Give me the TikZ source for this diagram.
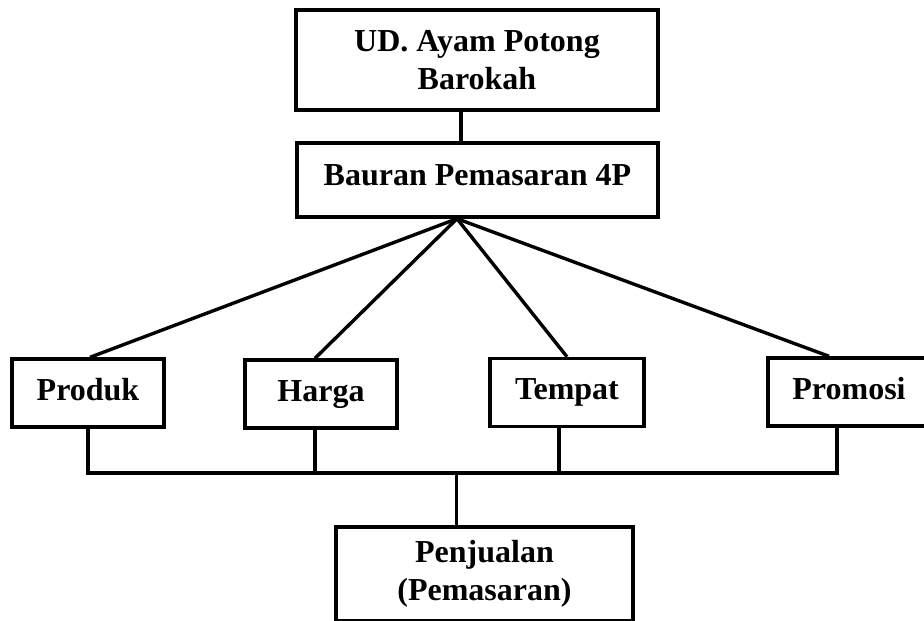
\documentclass[tikz,border=0pt]{standalone}
\usepackage{fontspec}
\setmainfont{Liberation Serif}
\begin{document}
\begin{tikzpicture}[x=1pt,y=-1pt,
  box/.style={draw,line width=3.4pt,rectangle,inner sep=0pt,align=center,
    font=\fontsize{32}{38}\selectfont\bfseries},
  pbox/.style={box,minimum height=68pt,text height=22pt,text depth=8pt},
  conn/.style={line width=3.4pt}]
\useasboundingbox (0,0) rectangle (924,621);
\node[box,minimum width=362pt,minimum height=100pt] (top) at (477,60) {UD. Ayam Potong\\Barokah};
\node[box,minimum width=361pt,minimum height=74pt,text height=22pt,text depth=12pt] (bauran) at (477.5,180) {Bauran Pemasaran 4P};
\node[pbox,minimum width=152pt] (produk) at (88,393) {Produk};
\node[pbox,minimum width=152pt] (harga) at (321,394) {Harga};
\node[pbox,minimum width=154pt] (tempat) at (567,392.5) {Tempat};
\node[pbox,minimum width=162pt] (promosi) at (849,392) {Promosi};
\node[box,minimum width=297pt,minimum height=94pt] (penjualan) at (484.5,574) {Penjualan\\(Pemasaran)};
\coordinate (apex) at ([xshift=-20.5pt]bauran.south);
\coordinate (busL) at (88,473);
\coordinate (busR) at (837,473);
\draw[conn] ([xshift=-16pt]top.south) -- ([xshift=-16pt]top.south |- bauran.north);
\draw[conn] (apex) -- ([xshift=2pt]produk.north);
\draw[conn] (apex) -- ([xshift=-6pt]harga.north);
\draw[conn] (apex) -- (tempat.north);
\draw[conn] (apex) -- ([xshift=-20pt]promosi.north);
\draw[conn] (produk.south) -- (produk.south |- busL);
\draw[conn] ([xshift=-6pt]harga.south) -- ([xshift=-6pt]harga.south |- busL);
\draw[conn] ([xshift=-8pt]tempat.south) -- ([xshift=-8pt]tempat.south |- busL);
\draw[conn] ([xshift=-12pt]promosi.south) -- ([xshift=-12pt]promosi.south |- busR);
\draw[conn] ([xshift=-1.7pt]busL) -- ([xshift=1.7pt]busR);
\draw[conn] ([xshift=-28pt]penjualan.north) -- ([xshift=-28pt]penjualan.north |- busL);
\end{tikzpicture}
\end{document}
